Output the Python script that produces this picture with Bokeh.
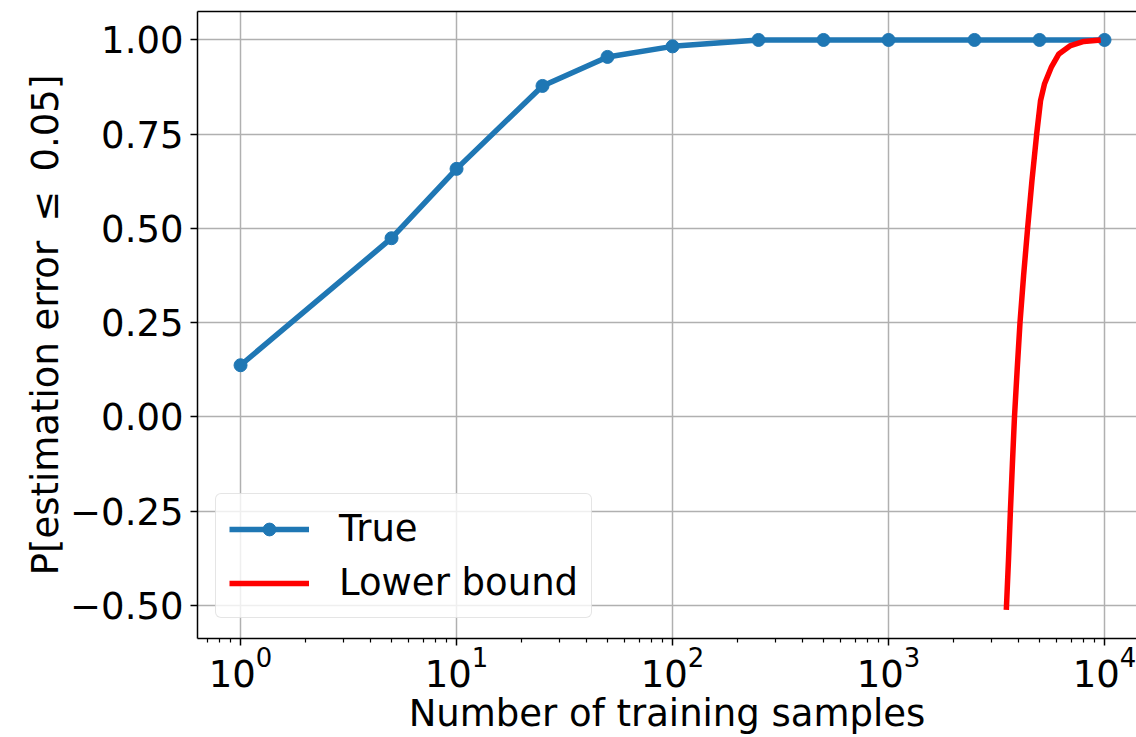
from bokeh.plotting import figure
from bokeh.models import (Legend, LegendItem, FixedTicker, LogAxis,
                          CustomJSTickFormatter)
from bokeh.embed import file_html
from bokeh.resources import INLINE

# Empirical probability that the estimation error stays within 0.05
n_samples = [1, 5, 10, 25, 50, 100, 250, 500, 1000, 2500, 5000, 10000]
p_true = [0.137, 0.474, 0.658, 0.878, 0.955, 0.983, 1.0, 1.0, 1.0, 1.0, 1.0, 1.0]

# Concentration lower bound on the same probability
bound_n = [3510, 3595, 3666, 3745, 3829, 3940, 4061, 4220, 4404, 4610, 4850,
           5055, 5270, 5663, 6147, 6960, 8020, 9600]
bound_p = [-0.512, -0.375, -0.25, -0.125, 0.0, 0.125, 0.25, 0.375, 0.5, 0.625,
           0.75, 0.839, 0.883, 0.927, 0.963, 0.985, 0.996, 1.0]

x_ticks = [1, 10, 100, 1000, 10000]
y_ticks = [-0.5, -0.25, 0.0, 0.25, 0.5, 0.75, 1.0]

FONT = "DejaVu Sans"
FS = "37px"
BLUE = "#1f77b4"

p = figure(width=1136, height=737, x_axis_type="log",
           x_range=(0.632, 14060), y_range=(-0.588, 1.0755),
           output_backend="svg", toolbar_location=None,
           min_border_left=197, min_border_right=0,
           min_border_top=11, min_border_bottom=98)
p.background_fill_color = "white"
p.border_fill_color = "white"
p.outline_line_color = None

# grid
for g in (p.xgrid, p.ygrid):
    g.grid_line_color = "#b0b0b0"
    g.grid_line_width = 1.5

# x axis (log)
p.xaxis.ticker = FixedTicker(
    ticks=x_ticks,
    minor_ticks=[m * 10 ** d for d in range(-1, 5) for m in range(2, 10)])
p.xaxis.axis_label = "Number of training samples"

# y axis
p.yaxis.ticker = FixedTicker(ticks=y_ticks)
p.yaxis.formatter = CustomJSTickFormatter(
    code="return tick.toFixed(2).replace('-', '\u2212');")
p.yaxis.axis_label = "P[estimation error \u2009\u2264\u2009 0.05]"

for ax in (p.xaxis[0], p.yaxis[0]):
    ax.axis_line_color = "black"
    ax.axis_line_width = 1.5
    ax.major_tick_line_color = "black"
    ax.major_tick_line_width = 1.5
    ax.major_tick_out = 7
    ax.major_tick_in = 0
    ax.minor_tick_line_color = "black" if ax is p.xaxis[0] else None
    ax.minor_tick_line_width = 1.2
    ax.minor_tick_out = 4
    ax.minor_tick_in = 0
    ax.major_label_text_font = FONT
    ax.major_label_text_font_size = FS
    ax.major_label_text_color = "black"
    ax.major_label_standoff = 7
    ax.axis_label_text_font = FONT
    ax.axis_label_text_font_size = FS
    ax.axis_label_text_font_style = "normal"
    ax.axis_label_text_color = "black"
    ax.axis_label_standoff = 0
p.xaxis.major_label_standoff = 0
p.xaxis.axis_label_standoff = 2

# top spine
top = LogAxis(ticker=FixedTicker(ticks=[]), major_tick_line_color=None,
              minor_tick_line_color=None, major_label_text_font_size="0px",
              axis_line_color="black", axis_line_width=1.5)
p.add_layout(top, "above")

# series
true_line = p.line(n_samples, p_true, line_color=BLUE, line_width=5.5)
true_pts = p.scatter(n_samples, p_true, size=13, fill_color=BLUE,
                     line_color=BLUE)
bound_line = p.line(bound_n, bound_p, line_color="red", line_width=5.5)

legend = Legend(items=[
    LegendItem(label="True", renderers=[true_line, true_pts]),
    LegendItem(label="Lower bound", renderers=[bound_line]),
], location=(18, 20))
legend.label_text_font = FONT
legend.label_text_font_size = FS
legend.label_text_color = "black"
legend.glyph_width = 80
legend.glyph_height = 32
legend.label_standoff = 30
legend.spacing = 11
legend.padding = 13
legend.margin = 0
legend.border_line_color = "#cccccc"
legend.border_line_width = 1.5
legend.background_fill_color = "white"
legend.background_fill_alpha = 0.8
if "border_radius" in legend.properties():
    legend.border_radius = 6
p.add_layout(legend)

open("out.html", "w").write(file_html(p, INLINE))
